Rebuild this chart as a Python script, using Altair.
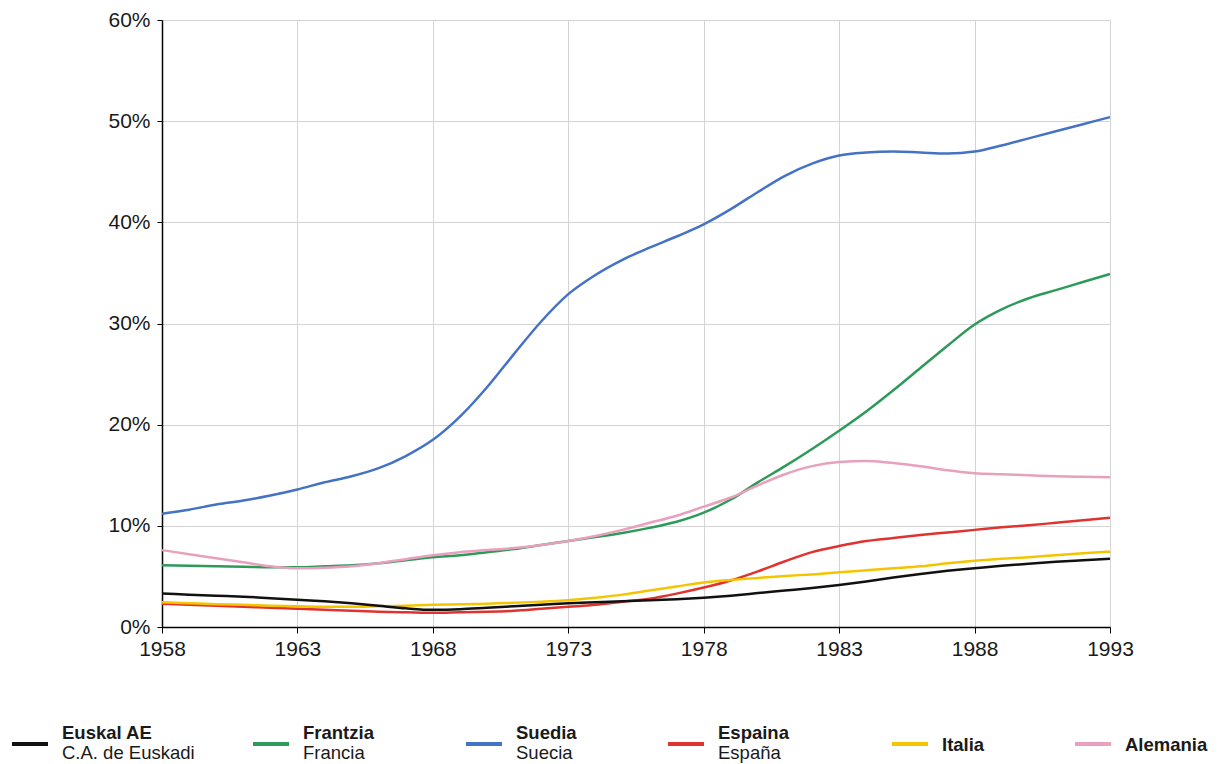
import altair as alt
import pandas as pd

YEARS = list(range(1958, 1994))

SERIES = ["Euskal AE", "Frantzia", "Suedia", "Espaina", "Italia", "Alemania"]
SUBLABELS = ["C.A. de Euskadi", "Francia", "Suecia", "España", "", ""]
COLORS = ["#111111", "#2e9a5a", "#4472c4", "#e0332e", "#f5c400", "#e9a0bd"]

euskal = [3.3, 3.2, 3.1, 3.0, 2.85, 2.7, 2.55, 2.35, 2.1, 1.85, 1.7, 1.75, 1.9, 2.05, 2.2, 2.35,
          2.45, 2.55, 2.65, 2.75, 2.9, 3.1, 3.35, 3.6, 3.85, 4.15, 4.5, 4.9, 5.25, 5.55, 5.8,
          6.05, 6.25, 6.45, 6.6, 6.75]
frantzia = [6.1, 6.05, 6.0, 5.95, 5.9, 5.9, 6.0, 6.1, 6.3, 6.6, 6.9, 7.1, 7.4, 7.7, 8.1, 8.5,
            8.9, 9.3, 9.8, 10.4, 11.3, 12.6, 14.3, 15.9, 17.6, 19.4, 21.3, 23.4, 25.6, 27.8,
            29.9, 31.4, 32.5, 33.3, 34.1, 34.9]
suedia = [11.2, 11.6, 12.1, 12.5, 13.0, 13.6, 14.3, 14.9, 15.7, 16.9, 18.5, 20.8, 23.7, 27.0,
          30.2, 32.9, 34.8, 36.3, 37.5, 38.6, 39.8, 41.3, 43.0, 44.6, 45.8, 46.6, 46.9, 47.0,
          46.9, 46.8, 47.0, 47.6, 48.3, 49.0, 49.7, 50.4]
espaina = [2.3, 2.2, 2.1, 2.0, 1.9, 1.8, 1.7, 1.6, 1.5, 1.45, 1.4, 1.45, 1.5, 1.6, 1.8, 2.0,
           2.2, 2.5, 2.8, 3.3, 3.9, 4.6, 5.5, 6.5, 7.4, 8.0, 8.5, 8.8, 9.1, 9.35, 9.6, 9.85,
           10.05, 10.3, 10.55, 10.8]
italia = [2.45, 2.35, 2.25, 2.2, 2.1, 2.05, 2.0, 2.0, 2.05, 2.1, 2.2, 2.25, 2.3, 2.4, 2.5,
          2.65, 2.9, 3.2, 3.6, 4.0, 4.4, 4.65, 4.85, 5.05, 5.2, 5.4, 5.6, 5.8, 6.0, 6.3, 6.55,
          6.75, 6.9, 7.1, 7.3, 7.45]
alemania = [7.6, 7.2, 6.8, 6.4, 6.0, 5.8, 5.85, 6.0, 6.3, 6.7, 7.1, 7.4, 7.6, 7.8, 8.1, 8.5,
            9.0, 9.6, 10.3, 11.0, 11.9, 12.8, 14.0, 15.1, 15.9, 16.3, 16.4, 16.2, 15.9, 15.5,
            15.2, 15.1, 15.0, 14.9, 14.85, 14.8]

VALUES = [euskal, frantzia, suedia, espaina, italia, alemania]
DRAW_ORDER = [2, 1, 5, 3, 4, 0]  # Euskal drawn last

rows = []
for idx in DRAW_ORDER:
    for y, v in zip(YEARS, VALUES[idx]):
        rows.append({"year": y, "value": v / 100.0, "series": SERIES[idx], "order": DRAW_ORDER.index(idx)})
df = pd.DataFrame(rows)

FONT = "Liberation Sans"
W, H = 948, 607

color_scale = alt.Scale(domain=SERIES, range=COLORS)

base = alt.Chart(df)
lines = base.mark_line(interpolate="monotone", strokeWidth=2.5).encode(
    x=alt.X("year:Q",
            scale=alt.Scale(domain=[1958, 1993], nice=False, zero=False),
            axis=alt.Axis(values=list(range(1958, 1994, 5)), format="d", title=None,
                          labelFontSize=21, labelFont=FONT, labelColor="#1a1a1a",
                          tickColor="#000", tickSize=6, domainColor="#000", domainWidth=1.5,
                          gridColor="#d4d4d4", labelPadding=5, labelFlush=False)),
    y=alt.Y("value:Q",
            scale=alt.Scale(domain=[0, 0.6], nice=False),
            axis=alt.Axis(values=[0, 0.1, 0.2, 0.3, 0.4, 0.5, 0.6], format=".0%", title=None,
                          labelFontSize=21, labelFont=FONT, labelColor="#1a1a1a",
                          tickColor="#000", tickSize=5, domainColor="#000", domainWidth=1.5,
                          gridColor="#d4d4d4", labelPadding=7)),
    color=alt.Color("series:N", scale=color_scale, legend=None),
    detail="series:N",
    order="order:Q",
    strokeWidth=alt.condition(alt.datum.series == "Euskal AE", alt.value(4), alt.value(2.5)),
)

# custom legend (layout offsets relative to plot origin)
LEG_SYM_X = [-150, 91, 304, 506, 730, 913]
leg = pd.DataFrame({
    "series": SERIES,
    "main": SERIES,
    "sub": SUBLABELS,
    "sx": LEG_SYM_X,
    "sx2": [v + 36 for v in LEG_SYM_X],
    "tx": [v + 50 for v in LEG_SYM_X],
    "ty1": [713 if s else 725 for s in SUBLABELS],
})
leg_base = alt.Chart(leg)
leg_sym = leg_base.mark_rule(strokeWidth=4).encode(
    x=alt.X("sx:Q", scale=None), x2="sx2:Q", y=alt.value(724),
    color=alt.Color("series:N", scale=color_scale, legend=None),
)
leg_t1 = leg_base.mark_text(align="left", baseline="middle", font=FONT, fontSize=18.5,
                            fontWeight="bold", color="#1a1a1a").encode(
    x=alt.X("tx:Q", scale=None), y=alt.Y("ty1:Q", scale=None), text="main:N")
leg_t2 = leg_base.mark_text(align="left", baseline="middle", font=FONT, fontSize=18.5,
                            color="#1a1a1a").encode(
    x=alt.X("tx:Q", scale=None), y=alt.value(733), text="sub:N")

chart = alt.layer(lines, leg_sym, leg_t1, leg_t2).properties(
    width=W, height=H,
    autosize=alt.AutoSizeParams(type="none"),
    padding={"left": 154, "top": 12, "right": 106, "bottom": 136},
).configure_view(stroke="#222", strokeWidth=1.5).configure(background="white")

chart.save("out.html", embed_options={"renderer": "svg", "actions": False})
